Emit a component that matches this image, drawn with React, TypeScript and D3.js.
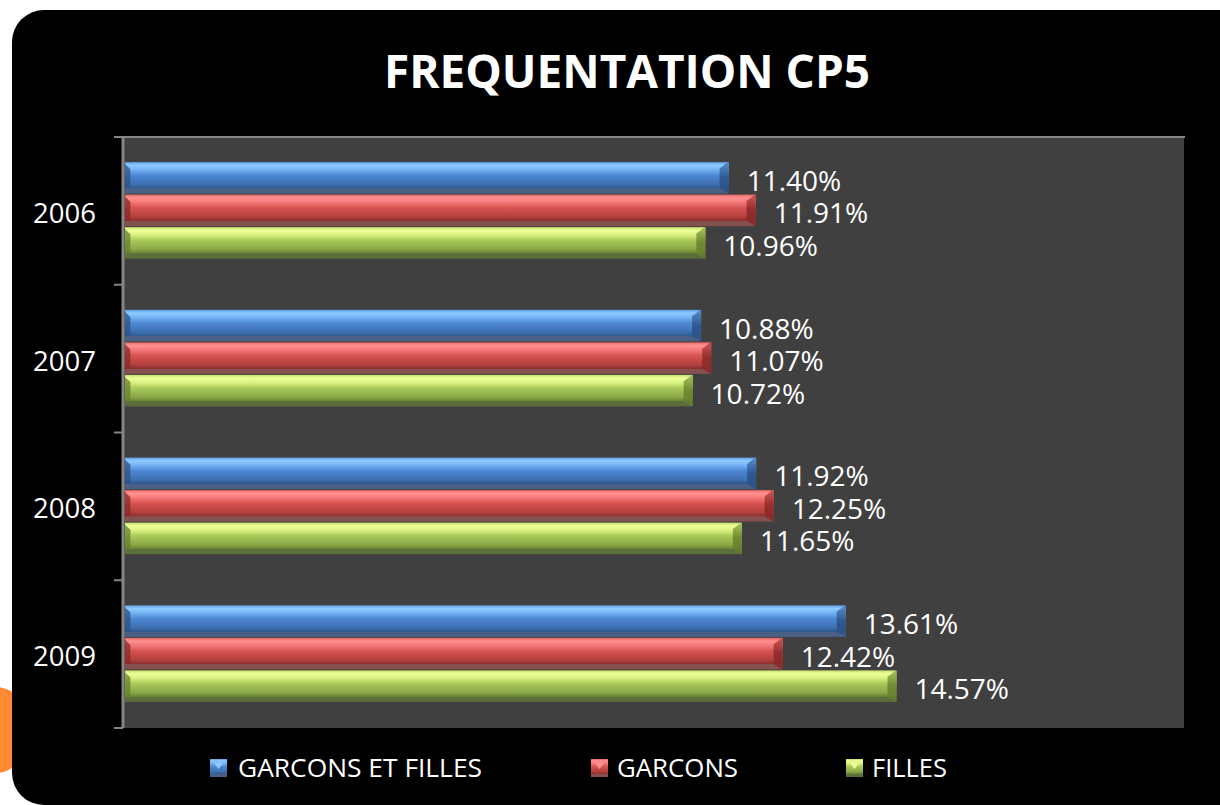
import React from 'react';
import * as d3 from 'd3';

const years = ['2006', '2007', '2008', '2009'];
const seriesNames = ['GARCONS ET FILLES', 'GARCONS', 'FILLES'];
const garconsEtFilles = [0.114, 0.1088, 0.1192, 0.1361];
const garcons = [0.1191, 0.1107, 0.1225, 0.1242];
const filles = [0.1096, 0.1072, 0.1165, 0.1457];
const seriesValues = [garconsEtFilles, garcons, filles];

// gradient stops per series: [top, highlight, upper, mid, lower, dark, bottom face]
const palettes = [
  { id: 'blue', stops: ['#5f9fe6', '#8fcbff', '#74b3f5', '#4d88d3', '#3d70b2', '#2f5a8e', '#4a6185'], cap: '#2c5287', capLight: '#4a80c4' },
  { id: 'red', stops: ['#e86866', '#ff9190', '#f5797a', '#d65350', '#b3403d', '#8c3230', '#85504e'], cap: '#8a2826', capLight: '#c04a48' },
  { id: 'green', stops: ['#c4dc6c', '#eeff95', '#dcf283', '#a9c95a', '#8aa847', '#6a8436', '#5b6f3b'], cap: '#66802c', capLight: '#98b84c' },
];

const W = 1220;
const H = 805;
const plot = { left: 123, right: 1184, top: 137, bottom: 728 };

const fmt = d3.format('.2%');

const App = () => {
  const x = d3.scaleLinear().domain([0, 0.2]).range([plot.left + 2, plot.right]);
  const y = d3.scaleBand().domain(years).range([plot.top, plot.bottom]);
  const groupH = y.bandwidth() * 0.66;
  const inner = d3.scaleBand<number>()
    .domain([0, 1, 2])
    .range([(y.bandwidth() - groupH) / 2, (y.bandwidth() + groupH) / 2]);
  const barH = inner.bandwidth() - 1;
  const tickYs = years.map(d => y(d) as number).concat([plot.bottom]);
  const bevel = 9;

  const legendItems = [
    { sq: 210, tx: 238, len: 244 },
    { sq: 591, tx: 617, len: 121 },
    { sq: 846, tx: 872, len: 75 },
  ];

  return (
    <svg width={W} height={H} style={{ position: 'absolute', left: 0, top: 0, background: '#fff' }}
      fontFamily="'Open Sans', sans-serif">
      <defs>
        {palettes.map(p => (
          <linearGradient key={p.id} id={`g-${p.id}`} x1="0" y1="0" x2="0" y2="1">
            <stop offset="0" stopColor={p.stops[0]} />
            <stop offset="0.1" stopColor={p.stops[1]} />
            <stop offset="0.24" stopColor={p.stops[2]} />
            <stop offset="0.42" stopColor={p.stops[3]} />
            <stop offset="0.7" stopColor={p.stops[4]} />
            <stop offset="0.83" stopColor={p.stops[5]} />
            <stop offset="0.84" stopColor={p.stops[6]} />
            <stop offset="1" stopColor={p.stops[6]} />
          </linearGradient>
        ))}
        {palettes.map(p => (
          <linearGradient key={p.id + 'c'} id={`c-${p.id}`} x1="0" y1="0" x2="0" y2="1">
            <stop offset="0" stopColor={p.capLight} />
            <stop offset="0.5" stopColor={p.cap} />
            <stop offset="1" stopColor={p.cap} />
          </linearGradient>
        ))}
      </defs>

      <circle cx={-10} cy={730} r={44} fill="#ff8a33" />
      <rect x={12} y={10} width={1260} height={795} rx={32} fill="#000" />

      <text x={627} y={88} fill="#fff" fontSize={46} fontWeight="bold" textAnchor="middle"
        textLength={486} lengthAdjust="spacingAndGlyphs">FREQUENTATION CP5</text>

      <rect x={plot.left} y={plot.top} width={plot.right - plot.left} height={plot.bottom - plot.top} fill="#404040" />
      <line x1={114} x2={plot.right + 1} y1={plot.top} y2={plot.top} stroke="#858585" strokeWidth={2} />
      <line x1={plot.left} x2={plot.left} y1={plot.top} y2={plot.bottom} stroke="#858585" strokeWidth={3} />
      {tickYs.map((t, i) => (
        <line key={i} x1={114} x2={plot.left} y1={t} y2={t} stroke="#858585" strokeWidth={2} />
      ))}

      {years.map(yr => (
        <text key={yr} x={96} y={(y(yr) as number) + y.bandwidth() / 2 + 12} fill="#fff" fontSize={27.5}
          textAnchor="end">{yr}</text>
      ))}

      {years.map((yr, i) => (
        <g key={yr} transform={`translate(0,${y(yr)})`}>
          {seriesValues.map((vals, s) => {
            const p = palettes[s];
            const y0 = inner(s) as number;
            const x0 = x(0);
            const x1 = x(vals[i]);
            const faceH = barH * 0.84;
            return (
              <g key={s}>
                <rect x={x0} y={y0} width={x1 - x0} height={barH} fill={`url(#g-${p.id})`} />
                <polygon points={`${x0},${y0 + 2} ${x0 + bevel * 0.6},${y0 + bevel * 0.8} ${x0 + bevel * 0.6},${y0 + faceH - 1} ${x0},${y0 + faceH}`}
                  fill={p.cap} opacity={0.75} />
                <polygon points={`${x1 - bevel},${y0 + bevel * 0.7} ${x1 - 2},${y0 + 1} ${x1},${y0} ${x1},${y0 + barH} ${x1 - bevel},${y0 + faceH}`}
                  fill={`url(#c-${p.id})`} opacity={0.85} />
                <text x={x1 + 18} y={y0 + barH / 2 + 13} fill="#fff" fontSize={28}>{fmt(vals[i])}</text>
              </g>
            );
          })}
        </g>
      ))}

      {seriesNames.map((name, s) => {
        const p = palettes[s];
        const it = legendItems[s];
        return (
          <g key={name}>
            <rect x={it.sq} y={759} width={17} height={18} fill={`url(#g-${p.id})`} />
            <polygon points={`${it.sq + 4},${763} ${it.sq + 13},${763} ${it.sq + 8.5},${769}`} fill={p.stops[1]} />
            <text x={it.tx} y={777} fill="#fff" fontSize={26} textLength={it.len} lengthAdjust="spacingAndGlyphs">{name}</text>
          </g>
        );
      })}
    </svg>
  );
};

export default App;
